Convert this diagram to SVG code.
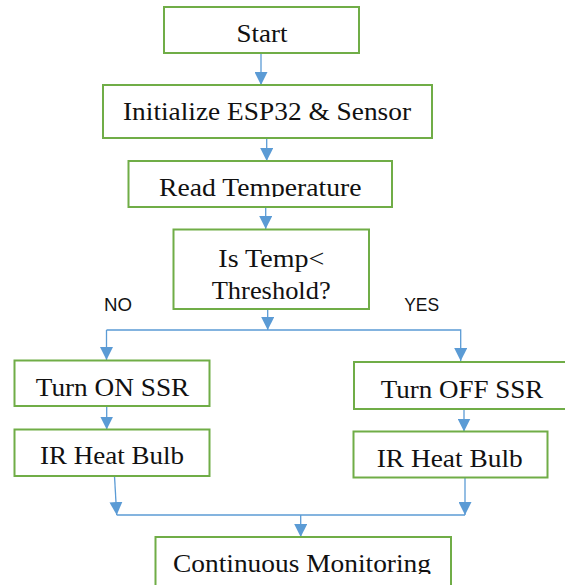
<svg xmlns="http://www.w3.org/2000/svg" width="565" height="585" viewBox="0 0 565 585">
<style>
.box{fill:#fff;stroke:#70AD47;stroke-width:2}
.t{font-family:"Liberation Serif","Times New Roman",serif;font-size:26px;fill:#111;text-anchor:middle}
.lbl{font-family:"Liberation Sans",Arial,sans-serif;font-size:19px;fill:#111;text-anchor:middle}
.c{fill:none;stroke:#5B9BD5;stroke-width:1.3}
</style>
<defs>
<marker id="ah" markerUnits="userSpaceOnUse" markerWidth="13" markerHeight="13" viewBox="0 0 12 12" refX="12" refY="6" orient="auto">
<path d="M0,0 L12,6 L0,12 Z" fill="#5B9BD5"/>
</marker>
<clipPath id="clipRead"><rect x="129" y="161" width="263" height="36"/></clipPath>
<clipPath id="clipCont"><rect x="155" y="537" width="296" height="37"/></clipPath>
</defs>
<rect width="565" height="585" fill="#fff"/>
<g id="connectors">
<line class="c" x1="261" y1="53" x2="261" y2="85" marker-end="url(#ah)"/>
<line class="c" x1="266.7" y1="138" x2="266.7" y2="161" marker-end="url(#ah)"/>
<line class="c" x1="265.7" y1="207" x2="265.7" y2="229" marker-end="url(#ah)"/>
<line class="c" x1="267.7" y1="309" x2="267.7" y2="330" marker-end="url(#ah)"/>
<polyline class="c" points="106.5,330 460.7,330 460.7,361" marker-end="url(#ah)"/>
<line class="c" x1="106.5" y1="330" x2="106.5" y2="360" marker-end="url(#ah)"/>
<line class="c" x1="106.7" y1="406" x2="106.7" y2="429.5" marker-end="url(#ah)"/>
<line class="c" x1="464" y1="409" x2="464" y2="431.5" marker-end="url(#ah)"/>
<line class="c" x1="114.5" y1="476" x2="116.7" y2="515" marker-end="url(#ah)"/>
<line class="c" x1="465" y1="478" x2="465" y2="515" marker-end="url(#ah)"/>
<line class="c" x1="116.7" y1="515" x2="465" y2="515"/>
<line class="c" x1="300.7" y1="515" x2="300.7" y2="537" marker-end="url(#ah)"/>
</g>
<g id="start">
<rect class="box" x="164" y="7" width="195" height="46"/>
<text class="t" x="262" y="42" textLength="51" lengthAdjust="spacingAndGlyphs">Start</text>
</g>
<g id="init">
<rect class="box" x="103" y="85" width="329" height="53"/>
<text class="t" x="267" y="120" textLength="288" lengthAdjust="spacingAndGlyphs">Initialize ESP32 &amp; Sensor</text>
</g>
<g id="read">
<rect class="box" x="128.5" y="161" width="263.5" height="46"/>
<text class="t" x="260.3" y="196" textLength="202.5" lengthAdjust="spacingAndGlyphs" clip-path="url(#clipRead)">Read Temperature</text>
</g>
<g id="decision">
<rect class="box" x="173.5" y="229.5" width="195.5" height="79.5"/>
<text class="t" x="271.3" y="267" textLength="106" lengthAdjust="spacingAndGlyphs">Is Temp&lt;</text>
<text class="t" x="271.2" y="298.5" textLength="119" lengthAdjust="spacingAndGlyphs">Threshold?</text>
</g>
<g id="label-no">
<text class="lbl" x="118" y="311" textLength="28" lengthAdjust="spacingAndGlyphs">NO</text>
</g>
<g id="label-yes">
<text class="lbl" x="421.7" y="311" textLength="35" lengthAdjust="spacingAndGlyphs">YES</text>
</g>
<g id="turn-on">
<rect class="box" x="14.5" y="360.5" width="195" height="45.5"/>
<text class="t" x="112.5" y="395.5" textLength="153.6" lengthAdjust="spacingAndGlyphs">Turn ON SSR</text>
</g>
<g id="bulb-left">
<rect class="box" x="14.5" y="429.5" width="195" height="46.5"/>
<text class="t" x="112" y="464.3" textLength="144" lengthAdjust="spacingAndGlyphs">IR Heat Bulb</text>
</g>
<g id="turn-off">
<rect class="box" x="354" y="362" width="215" height="47"/>
<text class="t" x="462" y="398.3" textLength="162.6" lengthAdjust="spacingAndGlyphs">Turn OFF SSR</text>
</g>
<g id="bulb-right">
<rect class="box" x="353.5" y="431.5" width="194" height="46"/>
<text class="t" x="449.7" y="467.3" textLength="146" lengthAdjust="spacingAndGlyphs">IR Heat Bulb</text>
</g>
<g id="monitor">
<rect class="box" x="155.5" y="537" width="295.5" height="60"/>
<text class="t" x="302" y="572" textLength="258" lengthAdjust="spacingAndGlyphs" clip-path="url(#clipCont)">Continuous Monitoring</text>
</g>
</svg>
